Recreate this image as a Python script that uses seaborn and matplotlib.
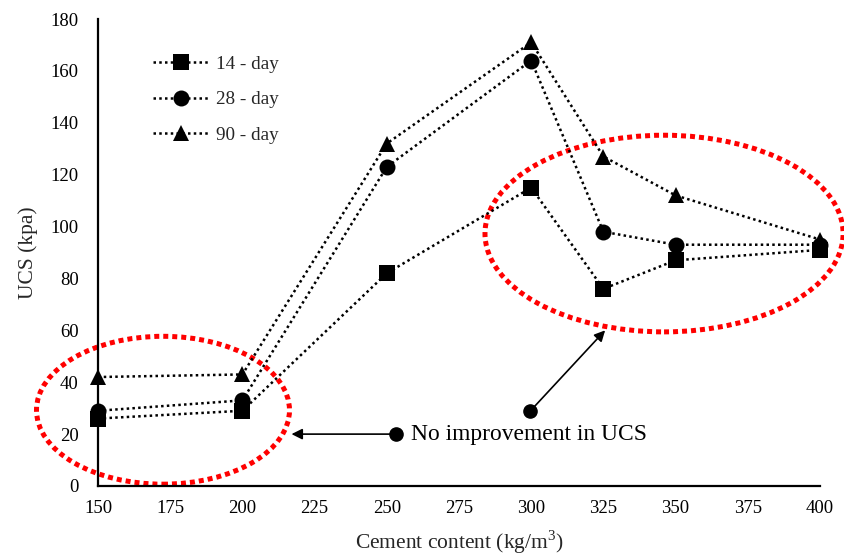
import matplotlib
matplotlib.use("Agg")
import matplotlib.pyplot as plt
from matplotlib.patches import Ellipse
import seaborn as sns
import pandas as pd

# Cement content (kg/m^3) and unconfined compressive strength (kPa) by curing age
cement = [150, 200, 250, 300, 325, 350, 400]
ucs_14 = [26, 29, 82, 115, 76, 87, 91]
ucs_28 = [29, 33, 123, 164, 98, 93, 93]
ucs_90 = [42, 43, 132, 171, 127, 112, 95]
ages = ["14 - day", "28 - day", "90 - day"]

x_ticks = [150, 175, 200, 225, 250, 275, 300, 325, 350, 375, 400]
y_ticks = [0, 20, 40, 60, 80, 100, 120, 140, 160, 180]

df = pd.concat([
    pd.DataFrame({"cement": cement, "ucs": vals, "age": age})
    for age, vals in zip(ages, [ucs_14, ucs_28, ucs_90])
], ignore_index=True)

sns.set_style("white")
plt.rcParams["font.family"] = ["Liberation Serif", "DejaVu Serif"]
plt.rcParams["mathtext.fontset"] = "custom"
plt.rcParams["mathtext.rm"] = "Liberation Serif"

fig = plt.figure(figsize=(8.45, 5.58), dpi=100)
ax = fig.add_axes([98 / 845, 1 - 486 / 558, 722 / 845, 467 / 558])

sns.lineplot(
    data=df, x="cement", y="ucs", hue="age", style="age",
    palette={a: "black" for a in ages},
    markers={"14 - day": "s", "28 - day": "o", "90 - day": "^"},
    dashes={a: (1, 1.3) for a in ages},
    markersize=11.5, linewidth=1.8, markeredgewidth=0,
    ax=ax, legend=True, zorder=3, clip_on=False,
)

handles, labels = ax.get_legend_handles_labels()
ax.legend(
    handles, labels, loc="upper left", bbox_to_anchor=(0.076, 0.922),
    frameon=False, fontsize=13.8, handlelength=2.9, handletextpad=0.4,
    labelspacing=0.95, borderpad=0, borderaxespad=0,
)

ax.set_xlim(150, 400)
ax.set_ylim(0, 180)
ax.set_xticks(x_ticks)
ax.set_yticks(y_ticks)
ax.tick_params(axis="both", direction="in", length=5, width=1.2,
               labelsize=13.5, colors="black")
ax.tick_params(axis="x", pad=10)
ax.tick_params(axis="y", pad=14)
for side in ["top", "right"]:
    ax.spines[side].set_visible(False)
for side in ["left", "bottom"]:
    ax.spines[side].set_linewidth(1.6)
    ax.spines[side].set_color("black")

ax.set_xlabel("Cement content (kg/m$^3$)", fontsize=15.5, labelpad=8)
ax.set_ylabel("UCS (kpa)", fontsize=15.5, labelpad=9)

# Highlight zones with no strength gain
red_dots = (0, (1, 0.8))
for (cx, cy, w, h) in [(172.5, 29.2, 87.6, 57.0), (346.0, 97.3, 124.0, 75.8)]:
    ax.add_patch(Ellipse((cx, cy), w, h, fill=False, edgecolor="#ff0000",
                         linewidth=3.6, linestyle=red_dots, clip_on=False,
                         zorder=2))

# Callout arrows and note
arrow_props = dict(arrowstyle="-|>", color="black", lw=1.2,
                   mutation_scale=16, shrinkA=0, shrinkB=0)
ax.annotate("", xy=(217.0, 20.0), xytext=(253.2, 20.0), arrowprops=arrow_props)
ax.annotate("", xy=(325.6, 60.0), xytext=(299.6, 28.8), arrowprops=arrow_props)
ax.plot([253.2, 299.6], [20.0, 28.8], "o", color="black", markersize=9.5,
        linestyle="none", zorder=4)
ax.text(258.4, 20.0, "No improvement in UCS", fontsize=16.9, va="center",
        ha="left", color="black")

fig.savefig("out.png", dpi=100)
